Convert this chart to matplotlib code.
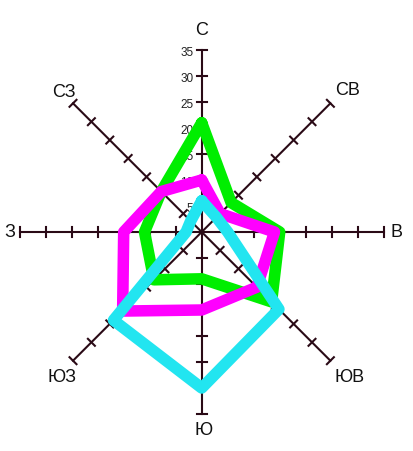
import math
import matplotlib
matplotlib.use('Agg')
import matplotlib.pyplot as plt

# directions clockwise from north
directions = ['С', 'СВ', 'В', 'ЮВ', 'Ю', 'ЮЗ', 'З', 'СЗ']
angles = [90, 45, 0, -45, -90, -135, 180, 135]

green = [21, 8, 15, 19, 9, 13, 11, 11]
magenta = [10, 5, 14, 15, 15, 21.5, 15, 11]
cyan = [6, 4, 5, 21, 30, 24, 3, 3]

ticks = [5, 10, 15, 20, 25, 30, 35]
rmax = 35

axis_col = '#2a0a16'
plt.rcParams['font.family'] = ['Liberation Sans', 'DejaVu Sans']

fig = plt.figure(figsize=(4.13, 4.51), dpi=100)
ax = fig.add_axes([0, 0, 1, 1])
scale = 5.2  # pixels per unit
cx, cy = 201.7, 232
ax.set_xlim(-cx/scale, (413-cx)/scale)
ax.set_ylim(-(451-cy)/scale, cy/scale)
ax.axis('off')

#axes with cross ticks
for ang in angles:
	a = math.radians(ang)
	ux, uy = math.cos(a), math.sin(a)
	ax.plot([0, rmax*ux], [0, rmax*uy], color=axis_col, lw=1.5, zorder=1)
	for t in ticks:
		px, py = t*ux, t*uy
		h = 0.95
		ax.plot([px - h*uy, px + h*uy], [py + h*ux, py - h*ux], color=axis_col, lw=1.5, zorder=1)

#tick labels on the north axis
for t in ticks:
	ax.text(-1.6, t - 0.6, str(t), ha='right', va='center', fontsize=8.5, color='#222222', zorder=2)

#direction labels (positions in chart units)
label_pos = [(0.06, 38.8), (28, 27.3), (37.5, 0), (28.5, -27.9),
			 (0.4, -38.1), (-26.9, -27.9), (-36.9, 0), (-26.5, 26.9)]
for name, (lx, ly) in zip(directions, label_pos):
	ax.text(lx, ly, name, ha='center', va='center', fontsize=13, color='#111111')

def polygon(vals):
	xs = []
	ys = []
	for v, ang in zip(vals, angles):
		a = math.radians(ang)
		xs.append(v*math.cos(a))
		ys.append(v*math.sin(a))
	xs.append(xs[0])
	ys.append(ys[0])
	return xs, ys

for vals, col, z in [(green, '#00ee00', 3), (magenta, '#ff00ff', 4), (cyan, '#22e5f0', 5)]:
	xs, ys = polygon(vals)
	ax.plot(xs, ys, color=col, lw=8.3, solid_joinstyle='round', solid_capstyle='round', zorder=z)

fig.savefig('out.png', dpi=100)
